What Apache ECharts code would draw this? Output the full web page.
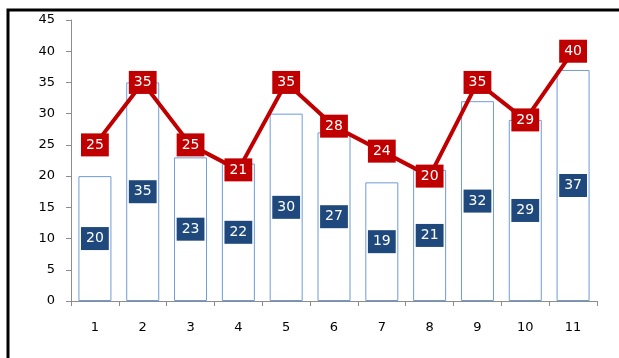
<!DOCTYPE html>
<html>
<head>
<meta charset="utf-8">
<script src="https://cdn.jsdelivr.net/npm/echarts@6/dist/echarts.min.js"></script>
<style>
  html, body { margin: 0; padding: 0; background: #fff; }
  #chart { width: 619px; height: 358px; }
</style>
</head>
<body>
<div id="chart"></div>
<script>
// 数据
var categories = ['1', '2', '3', '4', '5', '6', '7', '8', '9', '10', '11'];
var barValues = [20, 35, 23, 22, 30, 27, 19, 21, 32, 29, 37];
var lineValues = [25, 35, 25, 21, 35, 28, 24, 20, 35, 29, 40];

var chart = echarts.init(document.getElementById('chart'));

var labelFont = { fontFamily: 'DejaVu Sans', fontSize: 14, color: '#fff' };

chart.setOption({
    backgroundColor: '#fff',
    animation: false,
    graphic: [{
        type: 'polyline',
        shape: { points: [[8, 358], [8, 10], [619, 10]] },
        style: { fill: 'none', stroke: '#000', lineWidth: 3 },
        z: 0
    }],
    grid: { left: 71, right: 22, top: 20, bottom: 57 },
    xAxis: {
        type: 'category',
        data: categories,
        axisLine: { lineStyle: { color: '#8c8c8c', width: 1 } },
        axisTick: { show: true, length: 5, lineStyle: { color: '#8c8c8c' } },
        axisLabel: { color: '#000', fontFamily: 'DejaVu Sans', fontSize: 13, margin: 20 }
    },
    yAxis: {
        type: 'value',
        min: 0,
        max: 45,
        interval: 5,
        axisLine: { show: true, lineStyle: { color: '#8c8c8c', width: 1 } },
        axisTick: { show: true, length: 5, lineStyle: { color: '#8c8c8c' } },
        splitLine: { show: false },
        axisLabel: { color: '#000', fontFamily: 'DejaVu Sans', fontSize: 13, margin: 16 }
    },
    series: [
        {
            type: 'bar',
            data: barValues,
            barWidth: 33,
            itemStyle: { color: '#fff', borderColor: '#6e9bd6', borderWidth: 1 },
            label: {
                show: true,
                position: 'inside',
                backgroundColor: '#1f497d',
                padding: [5, 5, 4, 5],
                fontFamily: labelFont.fontFamily,
                fontSize: labelFont.fontSize,
                color: labelFont.color
            },
            z: 2
        },
        {
            type: 'line',
            data: lineValues,
            symbol: 'rect',
            symbolSize: 2,
            showSymbol: true,
            itemStyle: { color: '#c00000' },
            lineStyle: { color: '#c00000', width: 4 },
            label: {
                show: true,
                position: 'inside',
                backgroundColor: '#c00000',
                padding: [5, 5, 4, 5],
                fontFamily: labelFont.fontFamily,
                fontSize: labelFont.fontSize,
                color: labelFont.color
            },
            z: 3
        }
    ]
});
</script>
</body>
</html>
